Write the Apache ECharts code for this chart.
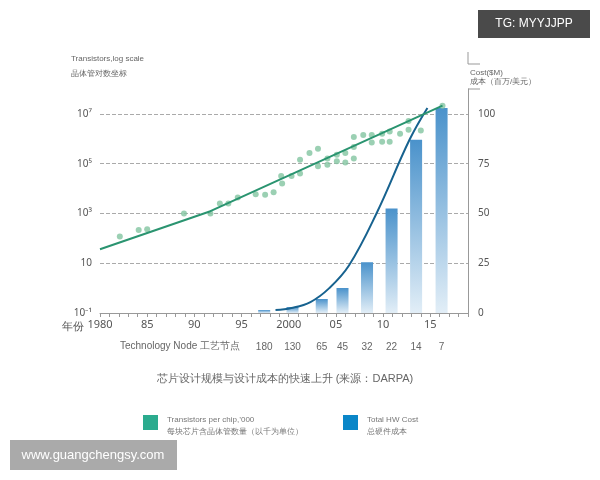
<!DOCTYPE html>
<html><head><meta charset="utf-8">
<script src="https://cdn.jsdelivr.net/npm/echarts@6/dist/echarts.min.js"></script>
<style>html,body{margin:0;padding:0;background:#fff}#c{width:600px;height:480px}</style>
</head><body><div id="c"></div>
<script>
const yearTicks = {1980:'1980',1985:'85',1990:'90',1995:'95',2000:'2000',2005:'05',2010:'10',2015:'15'};
const transistorPts = [[1982.1,2.07],[1984.1,2.33],[1985.0,2.36],[1988.9,3.0],[1991.7,3.0],[1992.7,3.4],[1993.6,3.4],[1994.6,3.64],[1996.5,3.77],[1997.5,3.75],[1998.4,3.85],[1999.3,4.2],[1999.2,4.5],[2000.3,4.5],[2001.2,4.6],[2001.2,5.16],[2002.2,5.43],[2003.1,5.6],[2003.1,4.9],[2004.1,4.96],[2004.1,5.21],[2005.1,5.1],[2005.1,5.36],[2006.0,5.05],[2006.0,5.43],[2006.9,5.21],[2006.9,5.67],[2006.9,6.07],[2007.9,6.15],[2008.8,6.15],[2008.8,5.85],[2009.9,6.2],[2009.9,5.88],[2010.7,6.29],[2010.7,5.88],[2011.8,6.2],[2012.7,6.36],[2012.7,6.71],[2014.0,6.33],[2016.3,7.33]];
const trendLine = [[1980,1.56],[1991.7,3.09],[2016.3,7.33]];
const nodeYears = [1997.4,2000.4,2003.5,2005.7,2008.3,2010.9,2013.5,2016.2];
const nodeLabels = ['180','130','65','45','32','22','14','7'];
const costBars = [1.5,3,7,12.5,25.5,52.5,87,103];
const costLine = [[1998.6,1.5],[2000.3,2.5],[2002.3,5.5],[2004.3,12.5],[2006.4,24],[2009.3,50],[2012.8,87],[2014.7,103]];

const sup = {'-1':'10⁻¹','1':'10','3':'10³','5':'10⁵','7':'10⁷'};
const chart = echarts.init(document.getElementById('c'));
chart.setOption({
  animation:false,
  textStyle:{fontFamily:'"Noto Sans","Noto Sans CJK SC",sans-serif'},
  grid:{left:100,right:132,top:89,bottom:167},
  xAxis:{type:'value',min:1980,max:2019,interval:1,
    axisLine:{onZero:false,lineStyle:{color:'#999'}},axisTick:{length:4,lineStyle:{color:'#999'}},
    splitLine:{show:false},
    axisLabel:{color:'#555',fontSize:11,margin:6,formatter:v=>yearTicks[v]||''}},
  yAxis:[
    {type:'value',min:-1,max:8,interval:2,
     axisLine:{show:false},axisTick:{show:false},
     splitLine:{showMaxLine:false,showMinLine:false,lineStyle:{type:'dashed',color:'#aaa'}},
     axisLabel:{color:'#555',fontSize:10,showMaxLabel:false,formatter:v=>sup[String(v)]||''}},
    {type:'value',min:0,max:112.5,interval:25,position:'right',
     axisLine:{show:true,lineStyle:{color:'#999'}},axisTick:{show:false},splitLine:{show:false},
     axisLabel:{color:'#555',fontSize:10,margin:10,showMaxLabel:false}}
  ],
  series:[
    {type:'bar',yAxisIndex:1,barWidth:12,data:nodeYears.map((y,i)=>[y,costBars[i]]),
     itemStyle:{color:new echarts.graphic.LinearGradient(0,0,0,1,[{offset:0,color:'#4a92cb'},{offset:1,color:'#e2eef7'}])}},
    {type:'line',yAxisIndex:1,smooth:0.4,symbol:'none',data:costLine,lineStyle:{color:'#17628f',width:2}},
    {type:'scatter',yAxisIndex:0,symbolSize:6,data:transistorPts,itemStyle:{color:'#82c4a0'}},
    {type:'line',yAxisIndex:0,symbol:'none',data:trendLine,lineStyle:{color:'#2a9470',width:2}}
  ]
});
const nodeGraphics = nodeYears.map((y,i)=>({type:'text',x:chart.convertToPixel({xAxisIndex:0},y),y:347,
  style:{text:nodeLabels[i],fill:'#666',fontSize:10,align:'center',verticalAlign:'middle'}}));
chart.setOption({graphic:[
  {type:'text',left:71,top:55,style:{text:'Transistors,log scale',fill:'#666',fontSize:8}},
  {type:'text',left:71,top:70,style:{text:'晶体管对数坐标',fill:'#666',fontSize:8}},
  {type:'text',left:470,top:68,style:{text:'Cost($M)\n成本（百万/美元）',fill:'#666',fontSize:8,lineHeight:9}},
  {type:'polyline',shape:{points:[[468,52],[468,64],[480,64]]},style:{stroke:'#999',lineWidth:1,fill:null}},
  {type:'line',shape:{x1:468,y1:89,x2:480,y2:89},style:{stroke:'#999',lineWidth:1}},
  {type:'text',left:62,top:321,style:{text:'年份',fill:'#555',fontSize:11}},
  {type:'text',left:120,top:341,style:{text:'Technology Node 工艺节点',fill:'#666',fontSize:10}},
  ...nodeGraphics,
  {type:'text',x:285,y:379,style:{text:'芯片设计规模与设计成本的快速上升 (来源：DARPA)',fill:'#666',fontSize:11,align:'center',verticalAlign:'middle'}},
  {type:'rect',shape:{x:143,y:415,width:15,height:15},style:{fill:'#2bab8e'}},
  {type:'text',left:167,top:414,style:{text:'Transistors per chip,’000\n每块芯片含晶体管数量（以千为单位）',fill:'#777',fontSize:8,lineHeight:12}},
  {type:'rect',shape:{x:343,y:415,width:15,height:15},style:{fill:'#0a86c8'}},
  {type:'text',left:367,top:414,style:{text:'Total HW Cost\n总硬件成本',fill:'#777',fontSize:8,lineHeight:12}},
  {type:'rect',shape:{x:478,y:10,width:112,height:28},style:{fill:'#4a4a4a'}},
  {type:'text',x:534,y:24,style:{text:'TG: MYYJJPP',fill:'#fff',fontSize:12,align:'center',verticalAlign:'middle'}},
  {type:'rect',shape:{x:10,y:440,width:167,height:30},style:{fill:'#aaaaaa'}},
  {type:'text',x:93,y:455,style:{text:'www.guangchengsy.com',fill:'#fff',fontSize:13,align:'center',verticalAlign:'middle'}}
]});
</script></body></html>
